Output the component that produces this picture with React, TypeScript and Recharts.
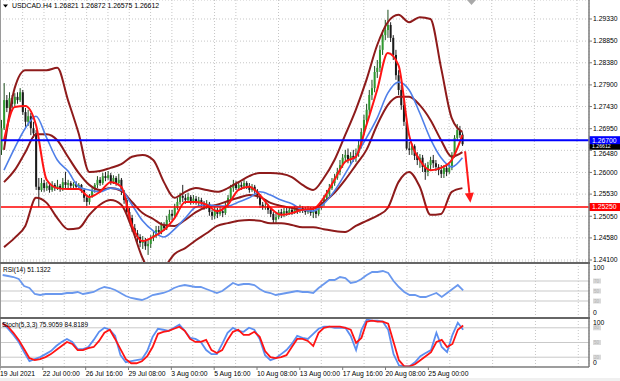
import React from "react";
import { Bar, CartesianGrid, ComposedChart, Line, ReferenceLine, XAxis, YAxis } from "recharts";

// ---- data (USDCAD H4) ----
const opens = [
  1.2649, 1.2696, 1.2757, 1.274, 1.2761, 1.2749, 1.2764, 1.2757, 1.2774, 1.2731,
  1.271, 1.2722, 1.2696, 1.2685, 1.2569, 1.2562, 1.2577, 1.2566, 1.2571, 1.2562,
  1.2573, 1.2566, 1.2571, 1.2564, 1.2579, 1.2573, 1.2577, 1.2571, 1.2575, 1.2569,
  1.2573, 1.2562, 1.2545, 1.2536, 1.2549, 1.2562, 1.2573, 1.2584, 1.2577, 1.2592,
  1.2588, 1.2594, 1.2579, 1.2588, 1.2577, 1.2584, 1.2558, 1.254, 1.2514, 1.2501,
  1.2479, 1.2468, 1.246, 1.2447, 1.2453, 1.244, 1.2445, 1.2458, 1.2464, 1.2475,
  1.2471, 1.2486, 1.2479, 1.2497, 1.251, 1.2506, 1.2523, 1.2536, 1.2549, 1.2545,
  1.254, 1.2547, 1.2538, 1.2543, 1.2536, 1.254, 1.2534, 1.2527, 1.2532, 1.2514,
  1.2506, 1.2519, 1.251, 1.2516, 1.2512, 1.2527, 1.2545, 1.2566, 1.2575, 1.2566,
  1.2573, 1.2569, 1.2577, 1.2571, 1.2562, 1.2569, 1.256, 1.2549, 1.253, 1.2525,
  1.2527, 1.2519, 1.251, 1.2497, 1.2503, 1.2514, 1.2508, 1.2516, 1.2512, 1.2519,
  1.2514, 1.2521, 1.2516, 1.2523, 1.2519, 1.2514, 1.2521, 1.2512, 1.2516, 1.251,
  1.2523, 1.2532, 1.2545, 1.2553, 1.2566, 1.2577, 1.2588, 1.2601, 1.2616, 1.2632,
  1.2638, 1.2627, 1.2636, 1.2632, 1.2642, 1.2659, 1.2688, 1.2714, 1.2736, 1.2768,
  1.2783, 1.2818, 1.2827, 1.2866, 1.2898, 1.2909, 1.292, 1.2892, 1.2855, 1.2811,
  1.2779, 1.2746, 1.271, 1.2652, 1.2649, 1.2657, 1.2636, 1.2627, 1.2632, 1.2612,
  1.2601, 1.2616, 1.2627, 1.262, 1.2612, 1.2605, 1.2597, 1.261, 1.2601, 1.261,
  1.2638, 1.2675, 1.2692, 1.26821,
];
const highs = [
  1.2714, 1.2794, 1.2768, 1.2774, 1.2768, 1.2772, 1.2774, 1.2783, 1.2779, 1.274,
  1.2736, 1.2729, 1.271, 1.2692, 1.2588, 1.2588, 1.2584, 1.2579, 1.2575, 1.2581,
  1.2577, 1.2584, 1.2575, 1.2588, 1.2601, 1.2584, 1.2581, 1.2579, 1.2581, 1.2577,
  1.2575, 1.2566, 1.2551, 1.2553, 1.2566, 1.2577, 1.2592, 1.259, 1.2599, 1.2601,
  1.2603, 1.2599, 1.2594, 1.2592, 1.2597, 1.2588, 1.2562, 1.2545, 1.2523, 1.2508,
  1.2488, 1.2475, 1.2466, 1.2462, 1.2458, 1.2453, 1.2464, 1.2473, 1.2484, 1.2484,
  1.2492, 1.2492, 1.2506, 1.2519, 1.2519, 1.2532, 1.2545, 1.2556, 1.2573, 1.2553,
  1.2556, 1.2551, 1.2551, 1.2549, 1.2547, 1.2545, 1.2538, 1.254, 1.2536, 1.2519,
  1.2527, 1.2523, 1.2525, 1.2523, 1.2534, 1.2551, 1.2573, 1.2584, 1.2581, 1.2579,
  1.2579, 1.2584, 1.2581, 1.2577, 1.2575, 1.2573, 1.2564, 1.2553, 1.2536, 1.2534,
  1.2532, 1.2523, 1.2514, 1.2512, 1.2519, 1.2521, 1.2523, 1.2523, 1.2525, 1.2523,
  1.2527, 1.2525, 1.253, 1.2527, 1.2525, 1.2527, 1.2525, 1.2525, 1.2523, 1.253,
  1.254, 1.2551, 1.2562, 1.2575, 1.2588, 1.2597, 1.261, 1.2627, 1.264, 1.2649,
  1.2652, 1.2644, 1.2649, 1.2652, 1.267, 1.2696, 1.2725, 1.2749, 1.2779, 1.2801,
  1.2831, 1.2844, 1.2876, 1.2909, 1.2931, 1.2953, 1.2926, 1.2898, 1.2866, 1.2822,
  1.279, 1.2757, 1.2718, 1.2666, 1.2663, 1.2661, 1.2644, 1.264, 1.2638, 1.262,
  1.2623, 1.2634, 1.2638, 1.2627, 1.2618, 1.2616, 1.2616, 1.2616, 1.2618, 1.2644,
  1.2681, 1.2705, 1.2701, 1.26872,
];
const lows = [
  1.2638, 1.2692, 1.2731, 1.2736, 1.274, 1.2744, 1.2749, 1.2753, 1.2725, 1.2699,
  1.2701, 1.2681, 1.2675, 1.2562, 1.2525, 1.2558, 1.2558, 1.256, 1.2556, 1.2558,
  1.256, 1.2562, 1.2558, 1.256, 1.2566, 1.2566, 1.2562, 1.2564, 1.2562, 1.2564,
  1.2556, 1.2536, 1.2527, 1.253, 1.2545, 1.2556, 1.2566, 1.2571, 1.2573, 1.2581,
  1.2584, 1.2573, 1.2575, 1.2571, 1.2573, 1.2551, 1.2532, 1.2508, 1.2492, 1.2471,
  1.2458, 1.2449, 1.2438, 1.2434, 1.2432, 1.2421, 1.2436, 1.2451, 1.2458, 1.2462,
  1.2466, 1.2473, 1.2475, 1.2492, 1.2497, 1.2501, 1.2519, 1.253, 1.2536, 1.2532,
  1.2534, 1.253, 1.2532, 1.253, 1.2527, 1.2525, 1.2519, 1.2521, 1.2506, 1.2497,
  1.2499, 1.2501, 1.2506, 1.2503, 1.2508, 1.2523, 1.254, 1.2558, 1.2562, 1.256,
  1.2562, 1.2564, 1.2564, 1.2556, 1.2558, 1.2553, 1.2543, 1.2523, 1.2519, 1.2519,
  1.251, 1.2503, 1.249, 1.249, 1.2499, 1.2501, 1.2503, 1.2506, 1.2508, 1.2508,
  1.251, 1.251, 1.2512, 1.2512, 1.2508, 1.251, 1.2506, 1.2501, 1.2501, 1.2506,
  1.2519, 1.2527, 1.254, 1.2549, 1.2562, 1.2571, 1.2584, 1.2594, 1.261, 1.2623,
  1.262, 1.2618, 1.2623, 1.2623, 1.2634, 1.2652, 1.2681, 1.2705, 1.2727, 1.2757,
  1.2774, 1.2805, 1.2818, 1.2855, 1.2887, 1.2892, 1.2883, 1.2844, 1.2801, 1.2768,
  1.2736, 1.2701, 1.2649, 1.2638, 1.2638, 1.2627, 1.2616, 1.261, 1.2601, 1.2584,
  1.2592, 1.2605, 1.261, 1.2603, 1.2594, 1.2588, 1.2588, 1.2592, 1.2597, 1.2605,
  1.2632, 1.267, 1.2675, 1.26575,
];
const closes = [
  1.2696, 1.2757, 1.274, 1.2761, 1.2749, 1.2764, 1.2757, 1.2774, 1.2731, 1.271,
  1.2722, 1.2696, 1.2685, 1.2569, 1.2562, 1.2577, 1.2566, 1.2571, 1.2562, 1.2573,
  1.2566, 1.2571, 1.2564, 1.2579, 1.2573, 1.2577, 1.2571, 1.2575, 1.2569, 1.2573,
  1.2562, 1.2545, 1.2536, 1.2549, 1.2562, 1.2573, 1.2584, 1.2577, 1.2592, 1.2588,
  1.2594, 1.2579, 1.2588, 1.2577, 1.2584, 1.2558, 1.254, 1.2514, 1.2501, 1.2479,
  1.2468, 1.246, 1.2447, 1.2453, 1.244, 1.2445, 1.2458, 1.2464, 1.2475, 1.2471,
  1.2486, 1.2479, 1.2497, 1.251, 1.2506, 1.2523, 1.2536, 1.2549, 1.2545, 1.254,
  1.2547, 1.2538, 1.2543, 1.2536, 1.254, 1.2534, 1.2527, 1.2532, 1.2514, 1.2506,
  1.2519, 1.251, 1.2516, 1.2512, 1.2527, 1.2545, 1.2566, 1.2575, 1.2566, 1.2573,
  1.2569, 1.2577, 1.2571, 1.2562, 1.2569, 1.256, 1.2549, 1.253, 1.2525, 1.2527,
  1.2519, 1.251, 1.2497, 1.2503, 1.2514, 1.2508, 1.2516, 1.2512, 1.2519, 1.2514,
  1.2521, 1.2516, 1.2523, 1.2519, 1.2514, 1.2521, 1.2512, 1.2516, 1.251, 1.2523,
  1.2532, 1.2545, 1.2553, 1.2566, 1.2577, 1.2588, 1.2601, 1.2616, 1.2632, 1.2638,
  1.2627, 1.2636, 1.2632, 1.2642, 1.2659, 1.2688, 1.2714, 1.2736, 1.2768, 1.2783,
  1.2818, 1.2827, 1.2866, 1.2898, 1.2909, 1.292, 1.2892, 1.2855, 1.2811, 1.2779,
  1.2746, 1.271, 1.2652, 1.2649, 1.2657, 1.2636, 1.2627, 1.2632, 1.2612, 1.2601,
  1.2616, 1.2627, 1.262, 1.2612, 1.2605, 1.2597, 1.261, 1.2601, 1.261, 1.2638,
  1.2675, 1.2692, 1.2681, 1.26612,
];

// indicator readings, one every 4 bars starting at bar 1
const bbUpper = [
  1.2649, 1.2783, 1.2822, 1.2822, 1.2822, 1.2827, 1.2757, 1.2685, 1.2601, 1.2603,
  1.261, 1.2618, 1.2634, 1.2638, 1.2627, 1.2579, 1.2545, 1.2558, 1.2566, 1.2562,
  1.2558, 1.2566, 1.2579, 1.2592, 1.2599, 1.2599, 1.2597, 1.259, 1.2573, 1.2562,
  1.2588, 1.2627, 1.2681, 1.2736, 1.2801, 1.2876, 1.2926, 1.2942, 1.2926, 1.2937,
  1.2933, 1.2827, 1.2718, 1.2688,
];
const bbMiddle = [
  1.2579, 1.2605, 1.2644, 1.2683, 1.2683, 1.267, 1.2634, 1.2599, 1.2573, 1.2562,
  1.2566, 1.256, 1.2536, 1.2512, 1.2499, 1.2486, 1.2484, 1.2497, 1.2514, 1.2525,
  1.253, 1.2538, 1.2545, 1.2551, 1.2547, 1.2534, 1.2527, 1.2523, 1.2519, 1.2521,
  1.2536, 1.2556, 1.2584, 1.2616, 1.2649, 1.2703, 1.2746, 1.2764, 1.2764, 1.2746,
  1.2714, 1.267, 1.2634, 1.2644,
];
const bbLower = [
  1.2438, 1.2458, 1.2484, 1.2545, 1.2534, 1.2501, 1.2477, 1.2479, 1.2508, 1.253,
  1.254, 1.253, 1.2479, 1.2414, 1.2378, 1.2393, 1.2423, 1.2436, 1.2453, 1.2468,
  1.2484, 1.249, 1.2495, 1.2497, 1.2495, 1.249, 1.249, 1.2486, 1.2481, 1.2481,
  1.2477, 1.2473, 1.2471, 1.2484, 1.2495, 1.2506, 1.2523, 1.2579, 1.2601, 1.2569,
  1.2508, 1.251, 1.2558, 1.2566,
];
const maFast = [
  1.267, 1.2742, 1.2744, 1.2703, 1.2584, 1.2566, 1.2564, 1.2564, 1.2547, 1.2558,
  1.2579, 1.2569, 1.2486, 1.2451, 1.246, 1.2475, 1.2501, 1.2536, 1.2536, 1.253,
  1.2516, 1.253, 1.2562, 1.2569, 1.2551, 1.2523, 1.2508, 1.2512, 1.2519, 1.2521,
  1.2545, 1.2584, 1.2623, 1.2634, 1.2703, 1.2779, 1.2859, 1.2833, 1.2681, 1.2627,
  1.2605, 1.261, 1.2627, 1.2681,
];
const maSlow = [
  1.2605, 1.2653, 1.2696, 1.2722, 1.2675, 1.2627, 1.2603, 1.2569, 1.2562, 1.2558,
  1.2566, 1.2562, 1.253, 1.2495, 1.2473, 1.246, 1.2477, 1.2501, 1.2525, 1.253,
  1.2527, 1.2527, 1.2536, 1.2545, 1.2558, 1.2551, 1.254, 1.2532, 1.2519, 1.2516,
  1.2532, 1.256, 1.2597, 1.2636, 1.2675, 1.2718, 1.2772, 1.2796, 1.2779, 1.2729,
  1.2673, 1.2632, 1.2612, 1.2632,
];

// oscillators, one reading every 2 bars starting at bar 1
const rsi = [
  82, 80, 78, 74, 60, 56, 44, 42, 44, 44, 44, 44, 46, 46, 48, 44, 46, 48, 54, 58,
  56, 52, 46, 40, 36, 34, 32, 36, 42, 44, 46, 50, 56, 60, 62, 60, 58, 58, 54, 50,
  46, 50, 58, 66, 62, 64, 64, 62, 54, 48, 46, 42, 44, 46, 48, 50, 48, 48, 46, 56,
  64, 72, 72, 78, 76, 66, 68, 74, 82, 88, 88, 90, 86, 70, 58, 48, 42, 42, 38, 38,
  42, 46, 38, 46, 54, 62, 51.1322,
];
const stochMain = [
  90.5, 78, 65.6, 51.1, 30.4, 11.8, 15.9, 20.1, 26.3, 32.5,
  42.8, 51.1, 57.3, 51.1, 36.6, 36.6, 40.8, 55.3, 71.8, 80.1,
  76, 63.5, 24.2, 9.7, 11.8, 13.9, 15.9, 32.5, 61.5, 78,
  76, 73.9, 80.1, 86.3, 73.9, 59.4, 57.3, 51.1, 34.6, 26.3,
  26.3, 47, 69.8, 80.1, 73.9, 71.8, 80.1, 76, 57.3, 24.2,
  13.9, 18, 26.3, 34.6, 47, 63.5, 59.4, 57.3, 67.7, 78,
  82.2, 82.2, 80.1, 80.1, 80.1, 63.5, 34.6, 76, 96.7, 94.6,
  94.6, 92.5, 76, 26.3, 3.5, 1.4, 1.4, 9.7, 22.1, 28.4,
  34.6, 69.8, 40.8, 30.4, 65.6, 90.5, 75.9059,
];
const stochSignal = [
  88.4, 82.2, 69.8, 55.3, 36.6, 18, 13.9, 15.9, 20.1, 26.3,
  34.6, 42.8, 51.1, 47, 34.6, 34.6, 38.7, 40.8, 53.2, 69.8,
  76, 57.3, 36.6, 15.9, 7.7, 7.7, 11.8, 22.1, 40.8, 67.7,
  71.8, 73.9, 78, 82.2, 73.9, 57.3, 51.1, 51.1, 55.3, 34.6,
  28.4, 34.6, 55.3, 71.8, 76, 65.6, 65.6, 71.8, 61.5, 32.5,
  20.1, 18, 20.1, 24.2, 40.8, 57.3, 57.3, 53.2, 42.8, 69.8,
  80.1, 82.2, 82.2, 82.2, 80.1, 76, 49.1, 59.4, 92.5, 94.6,
  92.5, 92.5, 88.4, 51.1, 13.9, 1.4, 1.4, 5.6, 13.9, 22.1,
  30.4, 51.1, 55.3, 40.8, 47, 76, 84.8189,
];

const resistance = 1.267;
const support = 1.2525;
const arrowFrom = { bar: 174, price: 1.2646 };
const arrowTo = { bar: 176, price: 1.2534 };

const priceTicks = [1.241, 1.2458, 1.2505, 1.2553, 1.26, 1.2648, 1.2695, 1.2743, 1.279, 1.2838, 1.2885, 1.2933];
const timeLabelBars = [0, 16, 32, 48, 64, 80, 96, 112, 128, 144, 160];
const timeLabels = [
  "19 Jul 2021", "22 Jul 00:00", "26 Jul 16:00", "29 Jul 08:00", "3 Aug 00:00", "5 Aug 16:00",
  "10 Aug 08:00", "13 Aug 00:00", "17 Aug 16:00", "20 Aug 08:00", "25 Aug 00:00",
];
const gridBars = Array.from({ length: 28 }, (_, k) => k * 8);
const rsiLevels = [70, 50, 30];
const stochLevels = [80, 50, 20];

// ---- build the table recharts needs ----
const SLOTS = 221;
const rows: any[] = Array.from({ length: SLOTS }, (_, i) => ({ i }));
closes.forEach((c, i) => {
  Object.assign(rows[i], { open: opens[i], high: highs[i], low: lows[i], close: c, range: [lows[i], highs[i]] });
});
const put = (arr: number[], key: string, step: number) =>
  arr.forEach((v, k) => {
    rows[1 + step * k][key] = v;
  });
put(bbUpper, "bbU", 4);
put(bbMiddle, "bbM", 4);
put(bbLower, "bbL", 4);
put(maFast, "maF", 4);
put(maSlow, "maS", 4);
put(rsi, "rsi", 2);
put(stochMain, "stM", 2);
put(stochSignal, "stS", 2);

const last = closes.length - 1;
const FONT = "Tahoma, 'Liberation Sans', Arial, sans-serif";
const BAND = "#8e1b1b";
const AXIS = "#7c7c7c";
const GRID = "#c6c6c6";
const W = 620;
const AXIS_W = 31;

function Candle(props: any) {
  const { x, y, width, height, payload } = props;
  if (!payload || payload.high == null) return null;
  const top = Math.min(y, y + height);
  const h = Math.abs(height);
  const { open, close, high, low } = payload;
  const span = high - low;
  const at = (v: number) => (span > 0 ? top + ((high - v) / span) * h : top);
  const cx = x + width / 2;
  const b1 = at(Math.max(open, close));
  const b2 = at(Math.min(open, close));
  const up = close >= open;
  return (
    <g>
      <line x1={cx} x2={cx} y1={top} y2={top + h} stroke={up ? "#1d4d1d" : "#222"} strokeWidth={1} />
      <rect x={cx - 1} y={b1} width={2} height={Math.max(1, b2 - b1)} fill={up ? "#2f9a2f" : "#1a1a1a"} />
    </g>
  );
}

// price axis label; the one sitting under the bid tag is pushed a little lower
function PriceTick(p: any) {
  const { x, y, payload } = p;
  const v = payload.value as number;
  const nudge = Math.abs(v - closes[last]) < 0.002 ? 3 : 0;
  return (
    <text x={x} y={y + nudge} dy="0.35em" fontSize={6.8} fill="#000" fontFamily={FONT}>
      {v.toFixed(5)}
    </text>
  );
}

// price tag on the right axis; shift nudges it off a neighbouring tag
const priceTag = (text: string, bg: string, shift = 0, size = 6.8) => (p: any) => {
  const vb = p.viewBox || {};
  const x = (vb.x || 0) + (vb.width || 0);
  const y = (vb.y || 0) + shift;
  return (
    <g>
      <rect x={x} y={y - 4} width={AXIS_W} height={8} fill={bg} />
      <text x={x + 3} y={y} dy="0.35em" fill="#fff" fontSize={size} fontFamily={FONT}>
        {text}
      </text>
    </g>
  );
};

function Arrow(p: any) {
  const { x1, y1, x2, y2 } = p;
  if ([x1, y1, x2, y2].some((v) => v == null || isNaN(v))) return null;
  const len = Math.hypot(x2 - x1, y2 - y1) || 1;
  const dx = (x2 - x1) / len;
  const dy = (y2 - y1) / len;
  const bx = x2 - dx * 10;
  const by = y2 - dy * 10;
  return (
    <g>
      <line x1={x1} y1={y1} x2={bx} y2={by} stroke="#ff1a1a" strokeWidth={2} />
      <polygon points={`${x2},${y2} ${bx - dy * 4.5},${by + dx * 4.5} ${bx + dy * 4.5},${by - dx * 4.5}`} fill="#ff1a1a" />
    </g>
  );
}

const oscTick = (levels: number[], plotH: number) => (p: any) => {
  const { x, y, payload } = p;
  const v = payload.value;
  if (levels.includes(v)) {
    return (
      <g>
        <rect x={x} y={y - 2.5} width={8} height={5} fill="#dadada" />
        <text x={x + 1} y={y} dy="0.35em" fontSize={4.5} fill="#b5b5b5" fontFamily={FONT}>
          {v}
        </text>
      </g>
    );
  }
  const yy = Math.min(Math.max(y, 5), plotH - 4.5);
  return (
    <text x={x} y={yy} dy="0.35em" fontSize={6.8} fill="#000" fontFamily={FONT}>
      {v}
    </text>
  );
};

function TimeTick(p: any) {
  const { x, y, payload } = p;
  const label = timeLabels[timeLabelBars.indexOf(payload.value)];
  return (
    <text x={x} y={y} dy="0.71em" fontSize={6.8} fill="#000" fontFamily={FONT} textAnchor="start">
      {label}
    </text>
  );
}

const margin = { top: 0, right: 0, bottom: 0, left: 0 };
const lineProps = { dot: false, activeDot: false, connectNulls: true, isAnimationActive: false } as const;

export default function App() {
  const header = `USDCAD.H4 ${opens[last].toFixed(5)} ${highs[last].toFixed(5)} ${lows[last].toFixed(5)} ${closes[last].toFixed(5)}`;
  const rsiText = `RSI(14) ${rsi[rsi.length - 1].toFixed(4)}`;
  const stText = `Stoch(5,3,3) ${stochMain[stochMain.length - 1].toFixed(4)} ${stochSignal[stochSignal.length - 1].toFixed(4)}`;
  return (
    <div style={{ position: "absolute", left: 0, top: 0, width: W, height: 381, background: "#fff", overflow: "hidden" }}>
      {/* price panel */}
      <div style={{ position: "absolute", left: 0, top: 0 }}>
        <ComposedChart width={W} height={262} data={rows} margin={margin} barCategoryGap={0}>
          <CartesianGrid stroke={GRID} strokeDasharray="1 2" />
          <XAxis dataKey="i" type="category" hide ticks={gridBars} />
          <YAxis
            orientation="right"
            width={AXIS_W}
            domain={[1.24057, 1.29742]}
            allowDataOverflow
            ticks={priceTicks}
            interval={0}
            tick={<PriceTick />}
            tickSize={3}
            tickMargin={1}
            tickLine={{ stroke: AXIS }}
            axisLine={{ stroke: AXIS, strokeWidth: 1.5 }}
          />
          <Bar dataKey="range" shape={<Candle />} isAnimationActive={false} />
          <Line dataKey="bbU" stroke={BAND} strokeWidth={2} type="monotone" {...lineProps} />
          <Line dataKey="bbM" stroke={BAND} strokeWidth={2} type="monotone" {...lineProps} />
          <Line dataKey="bbL" stroke={BAND} strokeWidth={2} type="monotone" {...lineProps} />
          <Line dataKey="maS" stroke="#4f7fe8" strokeWidth={1.6} type="monotone" {...lineProps} />
          <Line dataKey="maF" stroke="#ff1414" strokeWidth={2} type="monotone" {...lineProps} />
          <ReferenceLine y={closes[last]} stroke="none" label={priceTag(closes[last].toFixed(5), "#000", 1.5, 5.2)} />
          <ReferenceLine y={resistance} stroke="#0000ff" strokeWidth={2} label={priceTag(resistance.toFixed(5), "#0000ff")} />
          <ReferenceLine y={support} stroke="#ff0000" strokeWidth={1.5} label={priceTag(support.toFixed(5), "#ff0000")} />
          <ReferenceLine
            segment={[
              { x: arrowFrom.bar, y: arrowFrom.price },
              { x: arrowTo.bar, y: arrowTo.price },
            ]}
            shape={Arrow}
          />
        </ComposedChart>
      </div>

      {/* RSI panel */}
      <div style={{ position: "absolute", left: 0, top: 263 }}>
        <ComposedChart width={W} height={54} data={rows} margin={margin}>
          <CartesianGrid stroke={GRID} strokeDasharray="1 2" horizontal={false} />
          <XAxis dataKey="i" type="category" hide ticks={gridBars} />
          <YAxis
            orientation="right"
            width={AXIS_W}
            domain={[-2, 106]}
            allowDataOverflow
            ticks={[0, 30, 50, 70, 100]}
            interval={0}
            tick={oscTick(rsiLevels, 54)}
            tickSize={3}
            tickMargin={1}
            tickLine={false}
            axisLine={{ stroke: AXIS, strokeWidth: 1.5 }}
          />
          {rsiLevels.map((l) => (
            <ReferenceLine key={l} y={l} stroke="#c9c9c9" />
          ))}
          <Line dataKey="rsi" stroke="#6a98ee" strokeWidth={1.8} type="linear" {...lineProps} />
        </ComposedChart>
      </div>

      {/* Stochastic panel + time axis */}
      <div style={{ position: "absolute", left: 0, top: 318 }}>
        <ComposedChart width={W} height={63} data={rows} margin={margin}>
          <CartesianGrid stroke={GRID} strokeDasharray="1 2" horizontal={false} xAxisId="grid" />
          <XAxis xAxisId="grid" dataKey="i" type="category" hide ticks={gridBars} />
          <XAxis
            dataKey="i"
            type="category"
            height={14}
            ticks={timeLabelBars}
            interval={0}
            tick={<TimeTick />}
            tickSize={3}
            tickMargin={1}
            tickLine={{ stroke: AXIS }}
            axisLine={{ stroke: AXIS, strokeWidth: 1.5 }}
          />
          <YAxis
            orientation="right"
            width={AXIS_W}
            domain={[0, 100]}
            allowDataOverflow
            ticks={[0, 20, 50, 80, 100]}
            interval={0}
            tick={oscTick(stochLevels, 49)}
            tickSize={3}
            tickMargin={1}
            tickLine={false}
            axisLine={{ stroke: AXIS, strokeWidth: 1.5 }}
          />
          {stochLevels.map((l) => (
            <ReferenceLine key={l} y={l} stroke="#c9c9c9" />
          ))}
          <Line dataKey="stM" stroke="#5b8ef0" strokeWidth={1.8} type="linear" {...lineProps} />
          <Line dataKey="stS" stroke="#ff1414" strokeWidth={1.8} type="linear" {...lineProps} />
        </ComposedChart>
      </div>

      {/* frame */}
      <div style={{ position: "absolute", left: 0, top: 0, width: 1, height: 367, background: "#9a9a9a" }} />
      <div style={{ position: "absolute", left: 0, top: 262, width: 590, height: 2, background: "#666" }} />
      <div style={{ position: "absolute", left: 0, top: 317, width: 590, height: 2, background: "#666" }} />
      <div style={{ position: "absolute", left: 0, top: 378, width: W, height: 3, background: "#f0f0f0" }} />

      {/* texts */}
      <svg width={W} height={381} style={{ position: "absolute", left: 0, top: 0, pointerEvents: "none" }}>
        <polygon points="3,4.5 8,4.5 5.5,7.5" fill="#000" />
        <text x={12} y={8} fontSize={6.9} fontFamily={FONT} fill="#000">
          {header}
        </text>
        <polygon points="467,0 476,0 471.5,5" fill="#a9a9a9" />
        <text x={3} y={271.5} fontSize={6.5} fontFamily={FONT} fill="#000">
          {rsiText}
        </text>
        <text x={2} y={326.5} fontSize={6.5} fontFamily={FONT} fill="#000">
          {stText}
        </text>
      </svg>
    </div>
  );
}
